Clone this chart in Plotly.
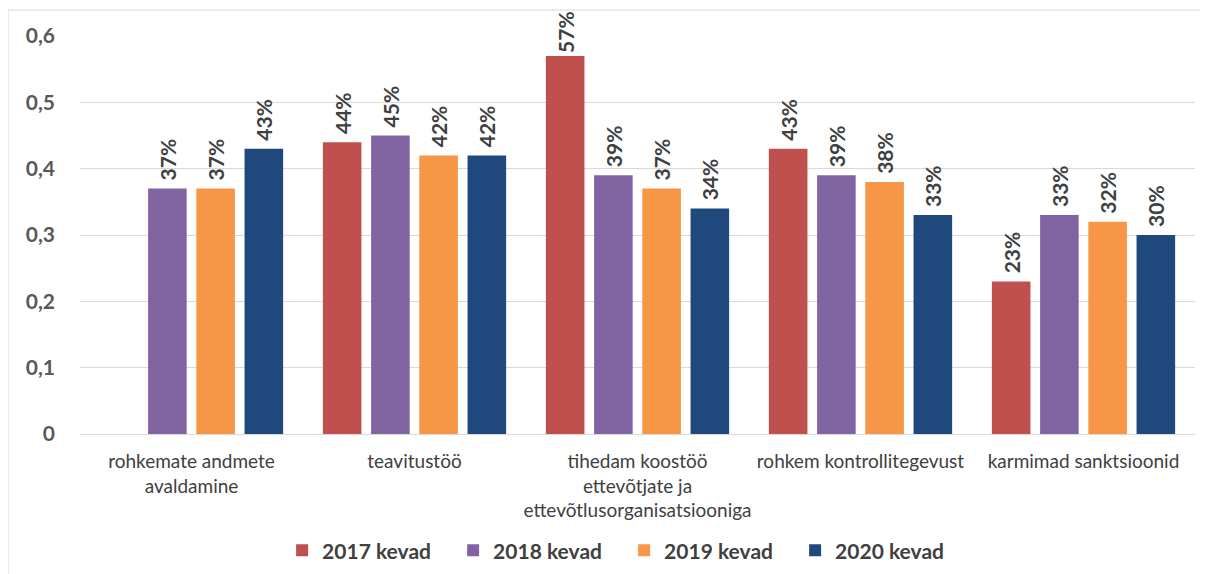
import plotly.graph_objects as go

categories = [
    "rohkemate andmete<br>avaldamine",
    "teavitustöö",
    "tihedam koostöö<br>ettevõtjate ja<br>ettevõtlusorganisatsiooniga",
    "rohkem kontrollitegevust",
    "karmimad sanktsioonid",
]
series_names = ["2017 kevad", "2018 kevad", "2019 kevad", "2020 kevad"]
values_2017 = [None, 0.44, 0.57, 0.43, 0.23]
values_2018 = [0.37, 0.45, 0.39, 0.39, 0.33]
values_2019 = [0.37, 0.42, 0.37, 0.38, 0.32]
values_2020 = [0.43, 0.42, 0.34, 0.33, 0.30]
y_ticks = [0, 0.1, 0.2, 0.3, 0.4, 0.5, 0.6]
y_tick_labels = ["0", "0,1", "0,2", "0,3", "0,4", "0,5", "0,6"]
colors = ["#C0504D", "#8064A2", "#F79646", "#1F497D"]

text_color = "#404040"


def bar_labels(vals):
    # small gap above the bar, except near the top where the label would be cut
    out = []
    for v in vals:
        if v is None:
            out.append("")
        elif v >= 0.55:
            out.append(f"{round(v * 100)}%")
        else:
            out.append(f"\u00a0{round(v * 100)}%")
    return out


fig = go.Figure()
for name, vals, col in zip(series_names, [values_2017, values_2018, values_2019, values_2020], colors):
    fig.add_trace(go.Bar(
        x=categories,
        y=vals,
        name=name,
        marker=dict(color=col, line=dict(width=0)),
        text=bar_labels(vals),
        texttemplate="%{text}",
        textposition="outside",
        textangle=-90,
        textfont=dict(size=21, color=text_color, family="Lato", weight="bold"),
        cliponaxis=False,
    ))

# the page body adds an 8px offset, margins account for it
fig.update_layout(
    width=1208,
    height=574,
    barmode="group",
    bargap=0.135,
    bargroupgap=0.2,
    paper_bgcolor="white",
    plot_bgcolor="white",
    margin=dict(l=72, r=21, t=28, b=147),
    font=dict(family="Lato", color=text_color),
    uniformtext=dict(minsize=21, mode="show"),
    legend=dict(
        orientation="h",
        x=0.488, xanchor="center",
        y=-0.29, yanchor="middle",
        font=dict(size=21, color=text_color, weight="bold"),
        entrywidth=126,
        entrywidthmode="pixels",
        traceorder="normal",
    ),
    showlegend=True,
)
fig.update_yaxes(
    range=[0, 0.6],
    tickvals=y_ticks,
    ticktext=y_tick_labels,
    showgrid=True,
    gridcolor="#D9D9D9",
    zeroline=False,
    automargin=False,
    tickfont=dict(size=21, color="#595959", weight="bold"),
    ticklabelstandoff=24,
)
fig.update_xaxes(
    showline=True,
    linecolor="#D9D9D9",
    automargin=False,
    tickfont=dict(size=19, color=text_color),
    ticklabelstandoff=10,
)
# outer chart border
fig.add_shape(type="rect", xref="paper", yref="paper",
              x0=-0.0646, x1=1.02, y0=-0.4, y1=1.065,
              line=dict(color="#D9D9D9", width=1))

fig.write_html("out.html")
